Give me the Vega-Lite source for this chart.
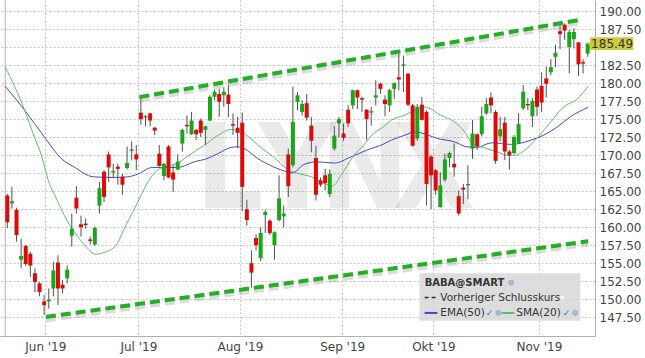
{
"$schema": "https://vega.github.io/schema/vega-lite/v6.json",
"width": 595, "height": 336,
"autosize": {"type": "none"},
"padding": {"left": 0, "top": 0, "right": 50, "bottom": 22},
"background": "white",
"config": {"view": {"stroke": null}, "font": "DejaVu Sans"},
"datasets": {
"candles": [
{"i":0,"o":164.4,"h":164.6,"l":159.9,"c":160.7},
{"i":1,"o":163.3,"h":165.6,"l":162.6,"c":163.6},
{"i":2,"o":162.4,"h":162.7,"l":158.0,"c":158.9},
{"i":3,"o":155.5,"h":158.4,"l":154.3,"c":156.0},
{"i":4,"o":157.4,"h":157.5,"l":154.6,"c":154.9},
{"i":5,"o":156.3,"h":156.6,"l":153.1,"c":154.7},
{"i":6,"o":153.6,"h":154.3,"l":151.0,"c":152.4},
{"i":7,"o":152.2,"h":152.4,"l":150.4,"c":151.0},
{"i":8,"o":149.7,"h":150.6,"l":147.8,"c":149.2},
{"i":9,"o":149.7,"h":151.5,"l":148.7,"c":149.95},
{"i":10,"o":151.5,"h":155.2,"l":150.4,"c":154.0},
{"i":11,"o":155.1,"h":156.1,"l":149.2,"c":151.5},
{"i":12,"o":152.0,"h":152.7,"l":150.8,"c":151.5},
{"i":13,"o":152.9,"h":154.7,"l":152.2,"c":154.1},
{"i":14,"o":158.8,"h":161.9,"l":157.3,"c":159.8},
{"i":15,"o":164.1,"h":165.7,"l":161.9,"c":162.6},
{"i":16,"o":160.4,"h":161.6,"l":158.7,"c":160.0},
{"i":17,"o":160.5,"h":161.2,"l":159.8,"c":160.3},
{"i":18,"o":158.3,"h":158.7,"l":157.6,"c":158.1},
{"i":19,"o":157.6,"h":160.1,"l":157.4,"c":159.9},
{"i":20,"o":163.0,"h":166.3,"l":161.9,"c":165.4},
{"i":21,"o":167.7,"h":167.9,"l":163.5,"c":164.2},
{"i":22,"o":170.1,"h":170.5,"l":166.3,"c":168.3},
{"i":23,"o":167.6,"h":168.8,"l":166.8,"c":167.8},
{"i":24,"o":168.4,"h":168.8,"l":165.9,"c":168.1},
{"i":25,"o":167.0,"h":167.4,"l":164.5,"c":165.9},
{"i":26,"o":168.2,"h":171.2,"l":168.0,"c":168.9},
{"i":27,"o":170.6,"h":171.9,"l":169.3,"c":170.8},
{"i":28,"o":170.1,"h":171.4,"l":167.9,"c":169.4},
{"i":29,"o":175.9,"h":178.0,"l":174.2,"c":175.0},
{"i":30,"o":175.2,"h":175.6,"l":174.0,"c":175.4},
{"i":31,"o":175.8,"h":175.9,"l":174.0,"c":174.8},
{"i":32,"o":173.8,"h":173.9,"l":172.8,"c":173.4},
{"i":33,"o":170.2,"h":171.4,"l":168.4,"c":168.5},
{"i":34,"o":167.1,"h":168.9,"l":166.5,"c":168.8},
{"i":35,"o":171.2,"h":171.4,"l":166.8,"c":166.9},
{"i":36,"o":167.6,"h":168.6,"l":164.9,"c":166.6},
{"i":37,"o":168.0,"h":170.1,"l":167.9,"c":169.1},
{"i":38,"o":171.6,"h":173.7,"l":170.5,"c":173.5},
{"i":39,"o":174.2,"h":175.5,"l":173.0,"c":174.0},
{"i":40,"o":172.9,"h":176.0,"l":172.8,"c":174.8},
{"i":41,"o":173.5,"h":173.6,"l":172.1,"c":172.9},
{"i":42,"o":174.8,"h":175.1,"l":172.5,"c":173.1},
{"i":43,"o":173.5,"h":174.1,"l":171.4,"c":174.0},
{"i":44,"o":174.8,"h":178.3,"l":174.7,"c":178.1},
{"i":45,"o":178.1,"h":179.1,"l":177.6,"c":178.8},
{"i":46,"o":178.5,"h":179.2,"l":175.3,"c":177.4},
{"i":47,"o":178.3,"h":179.4,"l":176.7,"c":178.8},
{"i":48,"o":178.4,"h":179.8,"l":175.3,"c":177.1},
{"i":49,"o":174.3,"h":175.8,"l":172.8,"c":174.1},
{"i":50,"o":173.8,"h":175.3,"l":171.0,"c":173.1},
{"i":51,"o":174.5,"h":175.9,"l":162.2,"c":165.6},
{"i":52,"o":162.5,"h":163.8,"l":160.2,"c":161.0},
{"i":53,"o":155.0,"h":156.8,"l":151.6,"c":153.7},
{"i":54,"o":158.5,"h":159.0,"l":156.8,"c":157.5},
{"i":55,"o":155.7,"h":160.0,"l":155.3,"c":159.2},
{"i":56,"o":161.7,"h":162.4,"l":159.2,"c":162.1},
{"i":57,"o":160.9,"h":161.1,"l":158.9,"c":159.2},
{"i":58,"o":157.5,"h":159.4,"l":155.5,"c":159.3},
{"i":59,"o":161.0,"h":167.2,"l":160.8,"c":164.0},
{"i":60,"o":161.5,"h":163.0,"l":160.0,"c":161.9},
{"i":61,"o":170.1,"h":170.9,"l":164.2,"c":165.7},
{"i":62,"o":168.6,"h":179.5,"l":168.3,"c":174.6},
{"i":63,"o":177.4,"h":178.75,"l":176.2,"c":178.3},
{"i":64,"o":176.0,"h":177.6,"l":175.5,"c":177.1},
{"i":65,"o":177.2,"h":178.5,"l":174.8,"c":175.2},
{"i":66,"o":174.1,"h":175.3,"l":170.4,"c":172.0},
{"i":67,"o":169.6,"h":171.3,"l":163.7,"c":164.5},
{"i":68,"o":166.5,"h":166.9,"l":165.6,"c":165.9},
{"i":69,"o":167.2,"h":168.1,"l":165.1,"c":166.1},
{"i":70,"o":164.6,"h":168.0,"l":164.2,"c":167.4},
{"i":71,"o":170.9,"h":174.0,"l":170.6,"c":172.7},
{"i":72,"o":174.4,"h":175.3,"l":172.5,"c":175.0},
{"i":73,"o":173.0,"h":174.4,"l":172.0,"c":172.4},
{"i":74,"o":176.3,"h":176.9,"l":173.9,"c":174.4},
{"i":75,"o":176.9,"h":179.1,"l":176.4,"c":179.0},
{"i":76,"o":179.0,"h":179.1,"l":176.4,"c":178.0},
{"i":77,"o":177.9,"h":178.1,"l":176.0,"c":177.7},
{"i":78,"o":176.3,"h":176.4,"l":172.1,"c":175.0},
{"i":79,"o":175.9,"h":176.7,"l":174.1,"c":176.1},
{"i":80,"o":178.0,"h":180.4,"l":176.9,"c":178.3},
{"i":81,"o":179.9,"h":180.1,"l":178.5,"c":179.2},
{"i":82,"o":177.7,"h":178.3,"l":175.4,"c":177.1},
{"i":83,"o":176.9,"h":179.2,"l":176.0,"c":179.0},
{"i":84,"o":179.2,"h":180.1,"l":177.8,"c":180.0},
{"i":85,"o":180.8,"h":184.3,"l":179.0,"c":180.5},
{"i":86,"o":182.4,"h":183.8,"l":178.75,"c":182.6},
{"i":87,"o":181.3,"h":181.4,"l":176.8,"c":177.0},
{"i":88,"o":176.9,"h":177.1,"l":171.2,"c":171.3},
{"i":89,"o":172.3,"h":177.1,"l":172.0,"c":176.7},
{"i":90,"o":177.0,"h":178.1,"l":174.8,"c":174.9},
{"i":91,"o":176.0,"h":176.2,"l":163.0,"c":166.0},
{"i":92,"o":169.8,"h":170.0,"l":162.5,"c":167.2},
{"i":93,"o":167.9,"h":168.1,"l":164.5,"c":165.1},
{"i":94,"o":162.8,"h":167.6,"l":162.7,"c":165.8},
{"i":95,"o":166.6,"h":170.2,"l":166.3,"c":169.4},
{"i":96,"o":169.6,"h":170.5,"l":168.3,"c":170.3},
{"i":97,"o":168.8,"h":171.6,"l":167.0,"c":168.3},
{"i":98,"o":164.3,"h":165.1,"l":161.6,"c":161.9},
{"i":99,"o":165.5,"h":166.0,"l":163.2,"c":165.2},
{"i":100,"o":165.8,"h":168.6,"l":163.9,"c":166.0},
{"i":101,"o":170.9,"h":174.9,"l":169.5,"c":173.0},
{"i":102,"o":172.9,"h":173.0,"l":170.7,"c":171.2},
{"i":103,"o":172.9,"h":176.7,"l":172.6,"c":175.4},
{"i":104,"o":175.8,"h":177.9,"l":175.6,"c":177.1},
{"i":105,"o":178.0,"h":178.7,"l":175.8,"c":176.9},
{"i":106,"o":176.0,"h":176.25,"l":168.8,"c":169.2},
{"i":107,"o":172.6,"h":175.3,"l":171.9,"c":173.6},
{"i":108,"o":174.5,"h":175.3,"l":169.3,"c":170.5},
{"i":109,"o":170.5,"h":170.7,"l":168.0,"c":170.0},
{"i":110,"o":170.3,"h":172.8,"l":170.1,"c":172.5},
{"i":111,"o":171.7,"h":175.8,"l":171.6,"c":174.3},
{"i":112,"o":176.5,"h":179.7,"l":176.25,"c":178.8},
{"i":113,"o":177.1,"h":177.9,"l":176.25,"c":176.9},
{"i":114,"o":175.4,"h":177.9,"l":173.9,"c":177.5},
{"i":115,"o":179.1,"h":179.5,"l":175.4,"c":176.7},
{"i":116,"o":179.6,"h":181.5,"l":176.0,"c":177.3},
{"i":117,"o":180.65,"h":182.3,"l":178.0,"c":179.9},
{"i":118,"o":181.5,"h":183.3,"l":181.1,"c":182.2},
{"i":119,"o":183.65,"h":185.3,"l":182.2,"c":184.2},
{"i":120,"o":187.2,"h":188.2,"l":184.7,"c":186.8},
{"i":121,"o":188.1,"h":188.3,"l":186.0,"c":187.3},
{"i":122,"o":185.0,"h":187.4,"l":181.35,"c":187.1},
{"i":123,"o":186.1,"h":187.6,"l":184.8,"c":187.1},
{"i":124,"o":185.65,"h":185.7,"l":181.0,"c":182.6},
{"i":125,"o":182.9,"h":183.3,"l":181.35,"c":182.7},
{"i":126,"o":184.1,"h":185.6,"l":183.65,"c":185.49}
],
"ma": [
{"s":"EMA(50)","i":-0.5,"v":179.58},{"s":"EMA(50)","i":3.76,"v":176.25},{"s":"EMA(50)","i":8.03,"v":172.54},{"s":"EMA(50)","i":11.87,"v":169.44},{"s":"EMA(50)","i":14.43,"v":168.38},{"s":"EMA(50)","i":18.7,"v":166.99},{"s":"EMA(50)","i":22.97,"v":166.9},{"s":"EMA(50)","i":26.17,"v":166.99},{"s":"EMA(50)","i":28.3,"v":167.36},{"s":"EMA(50)","i":31.5,"v":168.29},{"s":"EMA(50)","i":34.07,"v":168.29},{"s":"EMA(50)","i":36.84,"v":168.29},{"s":"EMA(50)","i":41.11,"v":169.17},{"s":"EMA(50)","i":42.82,"v":169.4},{"s":"EMA(50)","i":45.8,"v":170.24},{"s":"EMA(50)","i":48.58,"v":171.07},{"s":"EMA(50)","i":50.07,"v":171.15},{"s":"EMA(50)","i":51.35,"v":170.93},{"s":"EMA(50)","i":54.34,"v":169.54},{"s":"EMA(50)","i":57.76,"v":168.38},{"s":"EMA(50)","i":60.75,"v":167.68},{"s":"EMA(50)","i":61.81,"v":167.54},{"s":"EMA(50)","i":64.59,"v":168.75},{"s":"EMA(50)","i":67.36,"v":169.07},{"s":"EMA(50)","i":70.99,"v":168.9},{"s":"EMA(50)","i":74.62,"v":169.76},{"s":"EMA(50)","i":78.03,"v":170.69},{"s":"EMA(50)","i":81.66,"v":171.53},{"s":"EMA(50)","i":83.37,"v":172.08},{"s":"EMA(50)","i":86.36,"v":172.78},{"s":"EMA(50)","i":88.49,"v":173.24},{"s":"EMA(50)","i":89.77,"v":173.1},{"s":"EMA(50)","i":93.4,"v":172.32},{"s":"EMA(50)","i":97.03,"v":171.85},{"s":"EMA(50)","i":99.81,"v":171.15},{"s":"EMA(50)","i":101.94,"v":171.07},{"s":"EMA(50)","i":105.14,"v":171.71},{"s":"EMA(50)","i":109.41,"v":171.49},{"s":"EMA(50)","i":113.68,"v":172.08},{"s":"EMA(50)","i":116.46,"v":172.78},{"s":"EMA(50)","i":119.45,"v":173.93},{"s":"EMA(50)","i":122.23,"v":175.32},{"s":"EMA(50)","i":126.06,"v":176.63},
{"s":"SMA(20)","i":-0.5,"v":182.26},{"s":"SMA(20)","i":1.62,"v":179.49},{"s":"SMA(20)","i":3.76,"v":176.25},{"s":"SMA(20)","i":5.89,"v":172.5},{"s":"SMA(20)","i":7.39,"v":170.0},{"s":"SMA(20)","i":8.88,"v":166.53},{"s":"SMA(20)","i":10.8,"v":163.75},{"s":"SMA(20)","i":12.93,"v":160.97},{"s":"SMA(20)","i":15.07,"v":158.89},{"s":"SMA(20)","i":17.2,"v":157.22},{"s":"SMA(20)","i":19.12,"v":156.25},{"s":"SMA(20)","i":20.83,"v":156.46},{"s":"SMA(20)","i":23.61,"v":157.5},{"s":"SMA(20)","i":25.53,"v":160.0},{"s":"SMA(20)","i":27.24,"v":162.08},{"s":"SMA(20)","i":28.73,"v":164.03},{"s":"SMA(20)","i":30.65,"v":166.39},{"s":"SMA(20)","i":32.57,"v":167.92},{"s":"SMA(20)","i":34.71,"v":168.47},{"s":"SMA(20)","i":36.84,"v":168.85},{"s":"SMA(20)","i":38.98,"v":169.76},{"s":"SMA(20)","i":41.11,"v":170.69},{"s":"SMA(20)","i":42.82,"v":171.39},{"s":"SMA(20)","i":45.8,"v":172.78},{"s":"SMA(20)","i":48.58,"v":173.57},{"s":"SMA(20)","i":50.07,"v":173.38},{"s":"SMA(20)","i":52.21,"v":172.64},{"s":"SMA(20)","i":54.98,"v":171.07},{"s":"SMA(20)","i":57.76,"v":169.76},{"s":"SMA(20)","i":60.75,"v":168.06},{"s":"SMA(20)","i":63.09,"v":167.46},{"s":"SMA(20)","i":66.08,"v":166.99},{"s":"SMA(20)","i":68.22,"v":166.29},{"s":"SMA(20)","i":70.56,"v":165.69},{"s":"SMA(20)","i":72.48,"v":167.22},{"s":"SMA(20)","i":75.26,"v":170.0},{"s":"SMA(20)","i":77.39,"v":171.39},{"s":"SMA(20)","i":79.53,"v":173.01},{"s":"SMA(20)","i":81.66,"v":173.93},{"s":"SMA(20)","i":83.37,"v":174.86},{"s":"SMA(20)","i":86.36,"v":175.56},{"s":"SMA(20)","i":88.49,"v":176.25},{"s":"SMA(20)","i":90.41,"v":176.71},{"s":"SMA(20)","i":91.48,"v":176.53},{"s":"SMA(20)","i":94.04,"v":175.56},{"s":"SMA(20)","i":97.03,"v":174.63},{"s":"SMA(20)","i":99.17,"v":173.33},{"s":"SMA(20)","i":100.87,"v":171.67},{"s":"SMA(20)","i":103.43,"v":171.04},{"s":"SMA(20)","i":106.21,"v":170.49},{"s":"SMA(20)","i":108.99,"v":169.93},{"s":"SMA(20)","i":110.48,"v":170.0},{"s":"SMA(20)","i":112.61,"v":170.83},{"s":"SMA(20)","i":115.17,"v":172.5},{"s":"SMA(20)","i":117.95,"v":174.58},{"s":"SMA(20)","i":120.72,"v":176.67},{"s":"SMA(20)","i":123.71,"v":177.78},{"s":"SMA(20)","i":126.06,"v":179.54}
],
"trend": [
{"line":"upper","i":28.67,"v":178.05},{"line":"upper","i":124.0,"v":188.75},
{"line":"lower","i":8.39,"v":147.55},{"line":"lower","i":126.1,"v":158.05}
],
"watermark": [
{"t":"L","i":48.2,"v":162.6},{"t":"Y","i":62.9,"v":162.6},{"t":"N","i":77.6,"v":162.6},{"t":"X","i":92.6,"v":162.6}
],
"legendbox": [{"i":89.5,"i2":124.4,"v":153.6,"v2":147.0}],
"legendtitle": [{"t":"BABA@SMART","i":90.6,"v":152.3}],
"legendtext": [
{"t":"Vorheriger Schlusskurs","i":94.0,"v":150.24},
{"t":"EMA(50)","i":94.0,"v":148.1},
{"t":"SMA(20)","i":110.5,"v":148.1}
],
"legenddash": [{"i":90.6,"i2":93.2,"v":150.24}],
"legendlines": [
{"s":"EMA(50)","i":90.6,"i2":93.4,"v":148.1},
{"s":"SMA(20)","i":107.3,"i2":110.1,"v":148.1}
],
"legendchecks": [{"t":"✓","i":104.7,"v":148.1},{"t":"✓","i":121.4,"v":148.1}],
"legendgears": [{"i":109.4,"v":152.3},{"i":106.6,"v":148.1},{"i":123.3,"v":148.1}],
"legendsquare": [{"i":120.5,"v":150.24}],
"lastprice": [{"t":"185.49","i":126.5,"i2":135.9,"ic":131.3,"v":185.49,"top":186.35,"bottom":184.6}]
},
"resolve": {"axis": {"x": "independent", "y": "independent"}},
"layer": [
{
"data": {"name": "watermark"},
"mark": {"type": "text", "font": "DejaVu Sans Condensed", "fontWeight": "bold", "fontSize": 118, "align": "center", "baseline": "alphabetic", "color": "#000", "opacity": 0.08},
"encoding": {
"x": {"field": "i", "type": "quantitative", "scale": {"domain": [-0.5, 126.5], "nice": false, "zero": false},
"axis": {"orient": "bottom", "values": [8.25, 28.45, 50.5, 72.7, 92.5, 115.4],
"labelExpr": "datum.value < 20 ? \"Jun '19\" : datum.value < 40 ? \"Jul '19\" : datum.value < 60 ? \"Aug '19\" : datum.value < 80 ? \"Sep '19\" : datum.value < 100 ? \"Okt '19\" : \"Nov '19\"",
"title": null, "grid": true, "gridDash": [2, 2], "gridColor": "#c4c4c4", "ticks": false, "tickSize": 0,
"domainColor": "#b0b0b0", "labelColor": "#444", "labelFont": "DejaVu Sans", "labelFontSize": 12, "labelPadding": 5,
"labelFlush": false, "labelOverlap": false, "labelBound": false}},
"y": {"field": "v", "type": "quantitative", "scale": {"domain": [144.9, 191.53], "nice": false, "zero": false},
"axis": {"orient": "right", "values": [147.5, 150, 152.5, 155, 157.5, 160, 162.5, 165, 167.5, 170, 172.5, 175, 177.5, 180, 182.5, 185, 187.5, 190],
"labelExpr": "datum.value == 185 ? '' : format(datum.value, '.2f')",
"title": null, "grid": true, "gridDash": [2, 2], "gridColor": "#c4c4c4", "ticks": false, "tickSize": 0,
"domainColor": "#b0b0b0", "labelColor": "#444", "labelFont": "DejaVu Sans", "labelFontSize": 12, "labelPadding": 4,
"labelFlush": false, "labelOverlap": false, "labelBound": false}},
"text": {"field": "t"}
}
},
{
"data": {"values": [{"i": -0.45}]},
"mark": {"type": "rule", "color": "#b0b0b0", "strokeWidth": 1},
"encoding": {"x": {"field": "i", "type": "quantitative", "scale": {"domain": [-0.5, 126.5], "nice": false, "zero": false}, "axis": null}}
},
{
"data": {"name": "ma"},
"mark": {"type": "line", "strokeWidth": 1, "clip": true, "interpolate": "monotone"},
"encoding": {
"x": {"field": "i", "type": "quantitative", "scale": {"domain": [-0.5, 126.5], "nice": false, "zero": false}, "axis": null},
"y": {"field": "v", "type": "quantitative", "scale": {"domain": [144.9, 191.53], "nice": false, "zero": false}, "axis": null},
"color": {"field": "s", "type": "nominal", "scale": {"domain": ["EMA(50)", "SMA(20)"], "range": ["#4646de", "#5cc068"]}, "legend": null}
}
},
{
"data": {"name": "candles"},
"mark": {"type": "rule", "color": "#505050", "strokeWidth": 1},
"encoding": {
"x": {"field": "i", "type": "quantitative", "scale": {"domain": [-0.5, 126.5], "nice": false, "zero": false}, "axis": null},
"y": {"field": "l", "type": "quantitative", "scale": {"domain": [144.9, 191.53], "nice": false, "zero": false}, "axis": null},
"y2": {"field": "h"}
}
},
{
"data": {"name": "candles"},
"mark": {"type": "bar", "size": 4, "orient": "vertical"},
"encoding": {
"x": {"field": "i", "type": "quantitative", "scale": {"domain": [-0.5, 126.5], "nice": false, "zero": false}, "axis": null},
"y": {"field": "o", "type": "quantitative", "scale": {"domain": [144.9, 191.53], "nice": false, "zero": false}, "axis": null},
"y2": {"field": "c"},
"color": {"condition": {"test": "datum.c >= datum.o", "value": "#19a619"}, "value": "#dd0a0a"}
}
},
{
"data": {"name": "trend"},
"mark": {"type": "line", "color": "#888", "opacity": 0.3, "strokeWidth": 5, "strokeDash": [10, 5], "yOffset": 3, "strokeCap": "butt"},
"encoding": {
"x": {"field": "i", "type": "quantitative", "scale": {"domain": [-0.5, 126.5], "nice": false, "zero": false}, "axis": null},
"y": {"field": "v", "type": "quantitative", "scale": {"domain": [144.9, 191.53], "nice": false, "zero": false}, "axis": null},
"detail": {"field": "line"}
}
},
{
"data": {"name": "trend"},
"mark": {"type": "line", "color": "#22b022", "strokeWidth": 4, "strokeDash": [10, 5], "strokeCap": "butt"},
"encoding": {
"x": {"field": "i", "type": "quantitative", "scale": {"domain": [-0.5, 126.5], "nice": false, "zero": false}, "axis": null},
"y": {"field": "v", "type": "quantitative", "scale": {"domain": [144.9, 191.53], "nice": false, "zero": false}, "axis": null},
"detail": {"field": "line"}
}
},
{
"data": {"name": "legendbox"},
"mark": {"type": "rect", "color": "#d9d9d9", "opacity": 0.9},
"encoding": {
"x": {"field": "i", "type": "quantitative", "scale": {"domain": [-0.5, 126.5], "nice": false, "zero": false}, "axis": null},
"x2": {"field": "i2"},
"y": {"field": "v", "type": "quantitative", "scale": {"domain": [144.9, 191.53], "nice": false, "zero": false}, "axis": null},
"y2": {"field": "v2"}
}
},
{
"data": {"name": "legendtitle"},
"mark": {"type": "text", "font": "DejaVu Sans", "fontWeight": "bold", "fontSize": 10, "align": "left", "baseline": "middle", "color": "#333"},
"encoding": {
"x": {"field": "i", "type": "quantitative", "scale": {"domain": [-0.5, 126.5], "nice": false, "zero": false}, "axis": null},
"y": {"field": "v", "type": "quantitative", "scale": {"domain": [144.9, 191.53], "nice": false, "zero": false}, "axis": null},
"text": {"field": "t"}
}
},
{
"data": {"name": "legendtext"},
"mark": {"type": "text", "font": "DejaVu Sans", "fontSize": 10.5, "align": "left", "baseline": "middle", "color": "#333"},
"encoding": {
"x": {"field": "i", "type": "quantitative", "scale": {"domain": [-0.5, 126.5], "nice": false, "zero": false}, "axis": null},
"y": {"field": "v", "type": "quantitative", "scale": {"domain": [144.9, 191.53], "nice": false, "zero": false}, "axis": null},
"text": {"field": "t"}
}
},
{
"data": {"name": "legenddash"},
"mark": {"type": "rule", "color": "#333", "strokeWidth": 1.5, "strokeDash": [4, 3]},
"encoding": {
"x": {"field": "i", "type": "quantitative", "scale": {"domain": [-0.5, 126.5], "nice": false, "zero": false}, "axis": null},
"x2": {"field": "i2"},
"y": {"field": "v", "type": "quantitative", "scale": {"domain": [144.9, 191.53], "nice": false, "zero": false}, "axis": null}
}
},
{
"data": {"name": "legendlines"},
"mark": {"type": "rule", "strokeWidth": 2},
"encoding": {
"x": {"field": "i", "type": "quantitative", "scale": {"domain": [-0.5, 126.5], "nice": false, "zero": false}, "axis": null},
"x2": {"field": "i2"},
"y": {"field": "v", "type": "quantitative", "scale": {"domain": [144.9, 191.53], "nice": false, "zero": false}, "axis": null},
"color": {"field": "s", "type": "nominal", "scale": {"domain": ["EMA(50)", "SMA(20)"], "range": ["#4646de", "#5cc068"]}, "legend": null}
}
},
{
"data": {"name": "legendchecks"},
"mark": {"type": "text", "font": "DejaVu Sans", "fontSize": 9, "align": "center", "baseline": "middle", "color": "#3d6fc7"},
"encoding": {
"x": {"field": "i", "type": "quantitative", "scale": {"domain": [-0.5, 126.5], "nice": false, "zero": false}, "axis": null},
"y": {"field": "v", "type": "quantitative", "scale": {"domain": [144.9, 191.53], "nice": false, "zero": false}, "axis": null},
"text": {"field": "t"}
}
},
{
"data": {"name": "legendgears"},
"mark": {"type": "point", "shape": "circle", "filled": true, "size": 24, "color": "#8fb0d6", "stroke": "#6f90bb", "strokeWidth": 0.8},
"encoding": {
"x": {"field": "i", "type": "quantitative", "scale": {"domain": [-0.5, 126.5], "nice": false, "zero": false}, "axis": null},
"y": {"field": "v", "type": "quantitative", "scale": {"domain": [144.9, 191.53], "nice": false, "zero": false}, "axis": null}
}
},
{
"data": {"name": "legendsquare"},
"mark": {"type": "point", "shape": "square", "filled": true, "size": 22, "color": "#ffffff", "stroke": "#d0d0d0", "strokeWidth": 0.6},
"encoding": {
"x": {"field": "i", "type": "quantitative", "scale": {"domain": [-0.5, 126.5], "nice": false, "zero": false}, "axis": null},
"y": {"field": "v", "type": "quantitative", "scale": {"domain": [144.9, 191.53], "nice": false, "zero": false}, "axis": null}
}
},
{
"data": {"name": "lastprice"},
"mark": {"type": "rect", "color": "#cccc3d"},
"encoding": {
"x": {"field": "i", "type": "quantitative", "scale": {"domain": [-0.5, 126.5], "nice": false, "zero": false}, "axis": null},
"x2": {"field": "i2"},
"y": {"field": "top", "type": "quantitative", "scale": {"domain": [144.9, 191.53], "nice": false, "zero": false}, "axis": null},
"y2": {"field": "bottom"}
}
},
{
"data": {"name": "lastprice"},
"mark": {"type": "point", "shape": "triangle-left", "filled": true, "size": 45, "color": "#cccc3d", "opacity": 1},
"encoding": {
"x": {"field": "i", "type": "quantitative", "scale": {"domain": [-0.5, 126.5], "nice": false, "zero": false}, "axis": null},
"y": {"field": "v", "type": "quantitative", "scale": {"domain": [144.9, 191.53], "nice": false, "zero": false}, "axis": null}
}
},
{
"data": {"name": "lastprice"},
"mark": {"type": "text", "font": "DejaVu Sans", "fontSize": 12, "align": "center", "baseline": "middle", "color": "#333"},
"encoding": {
"x": {"field": "ic", "type": "quantitative", "scale": {"domain": [-0.5, 126.5], "nice": false, "zero": false}, "axis": null},
"y": {"field": "v", "type": "quantitative", "scale": {"domain": [144.9, 191.53], "nice": false, "zero": false}, "axis": null},
"text": {"field": "t"}
}
}
]
}
